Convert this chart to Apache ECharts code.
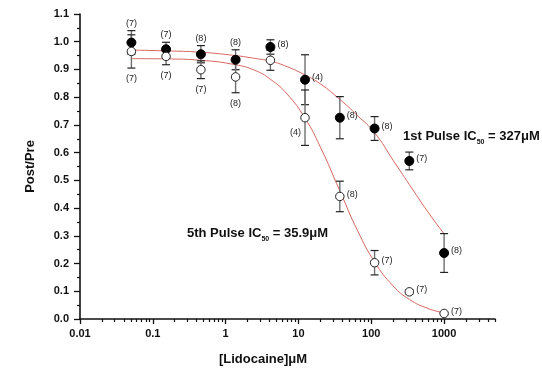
<!DOCTYPE html>
<html>
<head>
<meta charset="utf-8">
<script src="https://cdn.jsdelivr.net/npm/echarts@6/dist/echarts.min.js"></script>
<style>
  html, body { margin: 0; padding: 0; background: #fff; }
  #chart { width: 542px; height: 371px; }
</style>
</head>
<body>
<div id="chart"></div>
<script>
// [Lidocaine] (uM), 3-fold dilutions
const conc = [0.0508, 0.152, 0.457, 1.37, 4.12, 12.3, 37.0, 111, 333, 1000];

// 1st pulse (filled circles)
const firstMean = [0.997, 0.973, 0.955, 0.935, 0.981, 0.863, 0.726, 0.687, 0.570, 0.238];
const firstErr = [0.043, 0.025, 0.031, 0.036, 0.026, 0.090, 0.076, 0.043, 0.032, 0.070];
const firstN = [7, 7, 8, 8, 8, 4, 8, 8, 7, 8];

// 5th pulse (open circles)
const fifthMean = [0.965, 0.947, 0.899, 0.873, 0.933, 0.726, 0.442, 0.203, 0.098, 0.020];
const fifthErr = [0.060, 0.030, 0.032, 0.057, 0.036, 0.100, 0.055, 0.044, 0.008, 0.005];
const fifthN = [7, 7, 7, 8, null, 4, 8, 7, 7, 7];

// fitted curves
const fitConc = [0.05, 0.15, 0.46, 1.37, 2.5, 4.1, 7, 12.3, 20, 37, 65, 111, 200, 333, 600, 1000];
const firstFit = [0.970, 0.967, 0.962, 0.950, 0.940, 0.930, 0.910, 0.880, 0.848, 0.792, 0.733, 0.672, 0.572, 0.485, 0.386, 0.307];
const fifthFit = [0.939, 0.938, 0.933, 0.917, 0.897, 0.865, 0.811, 0.724, 0.620, 0.462, 0.318, 0.206, 0.119, 0.071, 0.038, 0.022];

// where each (n) label sits
const firstLabelPos = ['top', 'top', 'top', 'top', 'right', 'right', 'right', 'right', 'right', 'right'];
const fifthLabelPos = ['bottom', 'bottom', 'bottom', 'bottom', null, 'left', 'right', 'right', 'right', 'right'];

const xMajorTicks = [0.01, 0.1, 1, 10, 100, 1000];
const xMinorTicks = [];
[0.01, 0.1, 1, 10, 100, 1000].forEach(d => {
  for (let k = 2; k <= 9; k++) {
    if (d * k <= 5000) xMinorTicks.push(+(d * k).toPrecision(3));
  }
});

const FONT = '"Liberation Sans", Arial, sans-serif';
const CURVE = '#d8665f';

function errorSeries(mean, err, ns, pos) {
  return {
    type: 'custom',
    z: 3,
    data: conc.map((c, i) => [c, mean[i], err[i]]),
    renderItem(params, api) {
      const i = params.dataIndex;
      const x = api.value(0), m = api.value(1), e = api.value(2);
      const p = api.coord([x, m]);
      const t = api.coord([x, m + e]);
      const b = api.coord([x, m - e]);
      const children = [
        { type: 'line', shape: { x1: p[0], y1: t[1], x2: p[0], y2: b[1] }, style: { stroke: '#6f6f6f', lineWidth: 1.4 } },
        { type: 'line', shape: { x1: p[0] - 4, y1: t[1], x2: p[0] + 4, y2: t[1] }, style: { stroke: '#222', lineWidth: 1.2 } },
        { type: 'line', shape: { x1: p[0] - 4, y1: b[1], x2: p[0] + 4, y2: b[1] }, style: { stroke: '#222', lineWidth: 1.2 } }
      ];
      if (ns[i] != null && pos[i]) {
        let lx = p[0], ly = p[1], align = 'center', va = 'middle';
        if (pos[i] === 'top') { ly = t[1] - 3; va = 'bottom'; }
        else if (pos[i] === 'bottom') { ly = b[1] + 6; va = 'top'; }
        else if (pos[i] === 'right') { lx = p[0] + 7; ly = p[1] - 2; align = 'left'; }
        else if (pos[i] === 'left') { lx = p[0] - 4; ly = p[1] + 15; align = 'right'; }
        children.push({
          type: 'text',
          style: {
            x: lx, y: ly, text: '(' + ns[i] + ')', align: align, verticalAlign: va,
            fontSize: 9, fontFamily: FONT, fill: '#222'
          }
        });
      }
      return { type: 'group', children: children };
    }
  };
}

const chart = echarts.init(document.getElementById('chart'));
chart.setOption({
  animation: false,
  backgroundColor: '#fff',
  grid: { left: 80, right: 47, top: 14, bottom: 50, containLabel: false },
  xAxis: [
    {
      type: 'log',
      logBase: 10,
      min: 0.01,
      max: 5000,
      position: 'bottom',
      name: '[Lidocaine]μM',
      nameLocation: 'middle',
      nameGap: 34,
      nameTextStyle: { fontFamily: FONT, fontWeight: 'bold', fontSize: 13, color: '#111', padding: [0, 49, 0, 0] },
      axisLine: { onZero: false, lineStyle: { color: '#111', width: 1.6 } },
      axisTick: { inside: false, length: 5, customValues: xMajorTicks, lineStyle: { color: '#111', width: 1.3 } },
      axisLabel: {
        customValues: xMajorTicks,
        margin: 9,
        fontFamily: FONT, fontWeight: 'bold', fontSize: 11, color: '#111',
        formatter: v => String(+(+v).toPrecision(3))
      },
      splitLine: { show: false }
    },
    {
      type: 'log',
      logBase: 10,
      min: 0.01,
      max: 5000,
      position: 'bottom',
      axisLine: { show: false, onZero: false },
      axisTick: { inside: false, length: 3, customValues: xMinorTicks, lineStyle: { color: '#111', width: 1.2 } },
      axisLabel: { show: false },
      splitLine: { show: false }
    }
  ],
  yAxis: {
    type: 'value',
    min: 0,
    max: 1.1,
    interval: 0.1,
    name: 'Post/Pre',
    nameLocation: 'middle',
    nameGap: 43,
    nameTextStyle: { fontFamily: FONT, fontWeight: 'bold', fontSize: 13, color: '#111' },
    axisLine: { show: true, onZero: false, lineStyle: { color: '#111', width: 1.6 } },
    axisTick: { inside: false, length: 6, lineStyle: { color: '#111', width: 1.3 } },
    minorTick: { show: true, splitNumber: 2, length: 3, lineStyle: { color: '#111', width: 1.2 } },
    axisLabel: {
      margin: 11,
      fontFamily: FONT, fontWeight: 'bold', fontSize: 11, color: '#111',
      formatter: v => v.toFixed(1)
    },
    splitLine: { show: false },
    minorSplitLine: { show: false }
  },
  graphic: [
    {
      type: 'text', x: 403, y: 136, z: 10,
      style: {
        text: '{a|1st Pulse IC}{s|50}{a| = 327μM}',
        verticalAlign: 'middle',
        rich: {
          a: { fontFamily: FONT, fontWeight: 'bold', fontSize: 13, lineHeight: 20, fill: '#111' },
          s: { fontFamily: FONT, fontWeight: 'bold', fontSize: 7, lineHeight: 7, verticalAlign: 'bottom', fill: '#111' }
        }
      }
    },
    {
      type: 'text', x: 187, y: 233, z: 10,
      style: {
        text: '{a|5th Pulse IC}{s|50}{a| = 35.9μM}',
        verticalAlign: 'middle',
        rich: {
          a: { fontFamily: FONT, fontWeight: 'bold', fontSize: 13, lineHeight: 20, fill: '#111' },
          s: { fontFamily: FONT, fontWeight: 'bold', fontSize: 7, lineHeight: 7, verticalAlign: 'bottom', fill: '#111' }
        }
      }
    }
  ],
  series: [
    {
      type: 'line', smooth: true, showSymbol: false, z: 2,
      data: fitConc.map((c, i) => [c, firstFit[i]]),
      lineStyle: { color: CURVE, width: 1 }
    },
    {
      type: 'line', smooth: true, showSymbol: false, z: 2,
      data: fitConc.map((c, i) => [c, fifthFit[i]]),
      lineStyle: { color: CURVE, width: 1 }
    },
    errorSeries(firstMean, firstErr, firstN, firstLabelPos),
    errorSeries(fifthMean, fifthErr, fifthN, fifthLabelPos),
    {
      type: 'scatter', z: 5, symbol: 'circle', symbolSize: 9,
      data: conc.map((c, i) => [c, firstMean[i]]),
      itemStyle: { color: '#000', borderColor: '#000', borderWidth: 1, opacity: 1 }
    },
    {
      type: 'scatter', z: 5, symbol: 'circle', symbolSize: 8.5,
      data: conc.map((c, i) => [c, fifthMean[i]]),
      itemStyle: { color: '#fff', borderColor: '#222', borderWidth: 1, opacity: 1 }
    }
  ]
});
</script>
</body>
</html>
